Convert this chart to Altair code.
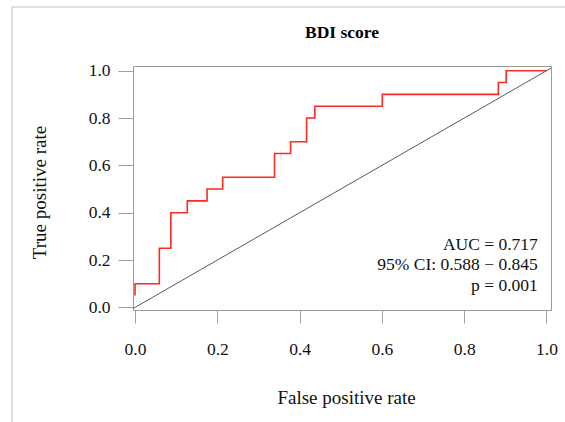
import altair as alt
import pandas as pd

# ROC curve vertices (false positive rate, true positive rate), step-after
fpr = [0.0, 0.0, 0.059, 0.087, 0.127, 0.175, 0.213, 0.339, 0.378, 0.417, 0.437, 0.601, 0.883, 0.902, 1.0]
tpr = [0.05, 0.10, 0.25, 0.40, 0.45, 0.50, 0.55, 0.65, 0.70, 0.80, 0.85, 0.90, 0.95, 1.0, 1.0]

tick_values = [0.0, 0.2, 0.4, 0.6, 0.8, 1.0]
x_domain = [-0.005, 1.011]
y_domain = [-0.011, 1.02]

ann_lines = ["AUC = 0.717", "95% CI: 0.588 \u2212 0.845", "p = 0.001"]
ann_x = [0.979, 0.979, 0.979]
ann_y = [0.242, 0.156, 0.069]

FONT = "Liberation Serif"
TXT = "#111111"

roc = pd.DataFrame({"fpr": fpr, "tpr": tpr, "order": list(range(len(fpr)))})
diag = pd.DataFrame({"fpr": x_domain, "tpr": x_domain})
ann = pd.DataFrame({"text": ann_lines, "x": ann_x, "y": ann_y})

xs = alt.Scale(domain=x_domain, nice=False, zero=False)
ys = alt.Scale(domain=y_domain, nice=False, zero=False)

common = dict(grid=False, domain=False, tickColor="#a0a0a0", tickWidth=1,
              labelFont=FONT, labelFontSize=17.5, labelColor=TXT,
              titleFont=FONT, titleFontSize=19, titleFontWeight="normal", titleColor=TXT)

x_axis = alt.Axis(values=tick_values, format=".1f", title="False positive rate",
                  tickSize=13, labelPadding=31, labelBaseline="alphabetic",
                  titleX=213, titleY=93, titleBaseline="alphabetic", titleAnchor="start",
                  titleAlign="center", **common)
y_axis = alt.Axis(values=tick_values, format=".1f", title="True positive rate",
                  tickSize=15, labelPadding=8,
                  titleX=-88, titleY=126, titleBaseline="alphabetic", titleAlign="center",
                  titleAnchor="start", titleAngle=270, **common)

diag_line = alt.Chart(diag).mark_line(color="#5a5a5a", strokeWidth=1, clip=True).encode(
    x=alt.X("fpr:Q", scale=xs, axis=x_axis),
    y=alt.Y("tpr:Q", scale=ys, axis=y_axis),
)

roc_line = alt.Chart(roc).mark_line(color="#ff2a1f", strokeWidth=1.6, interpolate="step-after").encode(
    x=alt.X("fpr:Q", scale=xs),
    y=alt.Y("tpr:Q", scale=ys),
    order="order:Q",
)

ann_text = alt.Chart(ann).mark_text(align="right", baseline="alphabetic", font=FONT,
                                     fontSize=17.5, color=TXT).encode(
    x=alt.X("x:Q", scale=xs),
    y=alt.Y("y:Q", scale=ys),
    text="text:N",
)

# light outer frame (top and left edges)
frame_top = alt.Chart(pd.DataFrame({"a": [0]})).mark_rule(color="#d6d6d6", strokeWidth=1.5).encode(
    x=alt.value(-121), x2=alt.value(440), y=alt.value(-59)
)
frame_left = alt.Chart(pd.DataFrame({"a": [0]})).mark_rule(color="#d6d6d6", strokeWidth=1.5).encode(
    x=alt.value(-121), y=alt.value(-59), y2=alt.value(370)
)

chart = alt.layer(diag_line, roc_line, ann_text, frame_top, frame_left).properties(
    width=418,
    height=244,
    autosize=alt.AutoSizeParams(type="none"),
    padding={"left": 133, "top": 66, "right": 14, "bottom": 112},
    background="white",
    title=alt.Title("BDI score", font=FONT, fontSize=17.5, fontWeight="bold",
                    anchor="middle", baseline="alphabetic", offset=-49, frame="group",
                    color="#000000"),
).configure_view(
    stroke="#9a9a9a", strokeWidth=1
)

chart.save("out.html", embed_options={"renderer": "svg", "actions": False})
